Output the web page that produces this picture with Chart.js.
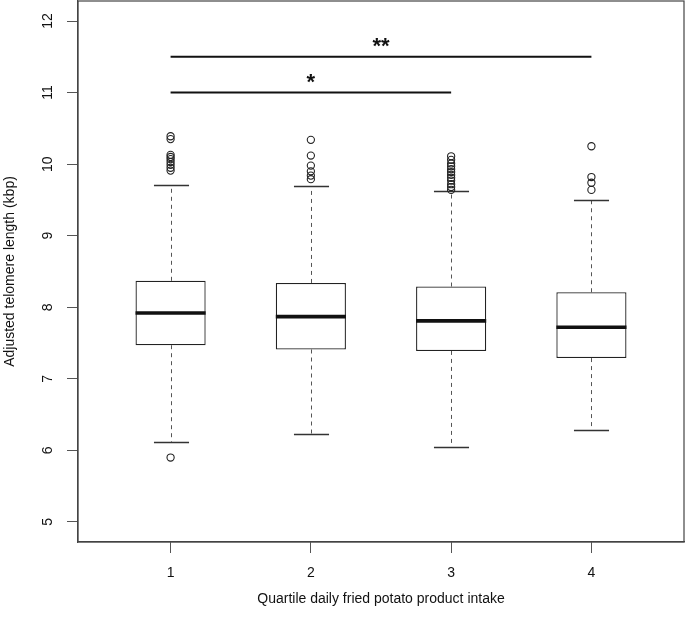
<!DOCTYPE html>
<html>
<head>
<meta charset="utf-8">
<script src="https://cdn.jsdelivr.net/npm/chart.js@4.4.1/dist/chart.umd.min.js"></script>
<style>
  html, body { margin: 0; padding: 0; background: #fff; }
  #wrap { width: 685px; height: 625px; }
</style>
</head>
<body>
<div id="wrap"><canvas id="myChart"></canvas></div>
<script>
// quartile groups
var groups = [1, 2, 3, 4];
var xTickLabels = ["1", "2", "3", "4"];
var yTicks = [5, 6, 7, 8, 9, 10, 11, 12];

// box stats (kbp)
var q1 = [7.47, 7.41, 7.39, 7.29];
var medians = [7.92, 7.87, 7.81, 7.72];
var q3 = [8.37, 8.34, 8.29, 8.21];
var whiskerLow = [6.12, 6.23, 6.05, 6.29];
var whiskerHigh = [9.71, 9.69, 9.63, 9.50];

// outliers per group
var outliers1 = [10.39, 10.35, 10.13, 10.10, 10.07, 10.03, 9.99, 9.95, 9.91, 5.90];
var outliers2 = [10.34, 10.12, 9.98, 9.90, 9.84, 9.79];
var outliers3 = [10.11, 10.06, 10.01, 9.97, 9.93, 9.89, 9.85, 9.81, 9.77, 9.72, 9.68, 9.64];
var outliers4 = [10.25, 9.82, 9.74, 9.64];

// significance brackets
var sigFrom = [1, 1];
var sigTo = [3, 4];
var sigHeight = [11.0, 11.5];
var sigLabel = ["*", "**"];

var outlierPoints = [];
[outliers1, outliers2, outliers3, outliers4].forEach(function (list, i) {
    list.forEach(function (v) { outlierPoints.push({ x: groups[i], y: v }); });
});

var boxes = groups.map(function (g, i) { return { x: g, y: [q1[i], q3[i]] }; });

var FONT = "'Liberation Sans', Arial, Helvetica, sans-serif";

var boxExtras = {
    id: "boxExtras",
    beforeDatasetsDraw: function (chart) {
        var ctx = chart.ctx;
        var yScale = chart.scales.y;
        var xScale = chart.scales.x;
        var bars = chart.getDatasetMeta(0).data;
        ctx.save();
        groups.forEach(function (g, i) {
            var cx = Math.round(xScale.getPixelForValue(g)) + 0.5;
            var half = bars[i].width / 2;
            var capHalf = half / 2;
            // dashed whiskers
            ctx.strokeStyle = "#555";
            ctx.lineWidth = 1;
            ctx.setLineDash([4, 4]);
            ctx.beginPath();
            ctx.moveTo(cx, yScale.getPixelForValue(q3[i]));
            ctx.lineTo(cx, yScale.getPixelForValue(whiskerHigh[i]));
            ctx.moveTo(cx, yScale.getPixelForValue(q1[i]));
            ctx.lineTo(cx, yScale.getPixelForValue(whiskerLow[i]));
            ctx.stroke();
            // staples
            ctx.setLineDash([]);
            ctx.strokeStyle = "#333";
            ctx.lineWidth = 1.3;
            ctx.beginPath();
            var yh = Math.round(yScale.getPixelForValue(whiskerHigh[i])) + 0.5;
            var yl = Math.round(yScale.getPixelForValue(whiskerLow[i])) + 0.5;
            ctx.moveTo(cx - capHalf, yh);
            ctx.lineTo(cx + capHalf, yh);
            ctx.moveTo(cx - capHalf, yl);
            ctx.lineTo(cx + capHalf, yl);
            ctx.stroke();
        });
        ctx.restore();
    },
    afterDatasetsDraw: function (chart) {
        var ctx = chart.ctx;
        var yScale = chart.scales.y;
        var xScale = chart.scales.x;
        var bars = chart.getDatasetMeta(0).data;
        var area = chart.chartArea;
        ctx.save();
        // medians
        groups.forEach(function (g, i) {
            var cx = xScale.getPixelForValue(g);
            var half = bars[i].width / 2;
            var ym = yScale.getPixelForValue(medians[i]);
            ctx.strokeStyle = "#111";
            ctx.lineWidth = 3.6;
            ctx.beginPath();
            ctx.moveTo(cx - half, ym);
            ctx.lineTo(cx + half, ym);
            ctx.stroke();
        });
        // significance lines
        sigFrom.forEach(function (a, k) {
            var x1 = xScale.getPixelForValue(a);
            var x2 = xScale.getPixelForValue(sigTo[k]);
            var y = yScale.getPixelForValue(sigHeight[k]);
            ctx.strokeStyle = "#111";
            ctx.lineWidth = 2;
            ctx.beginPath();
            ctx.moveTo(x1, y);
            ctx.lineTo(x2, y);
            ctx.stroke();
            ctx.fillStyle = "#111";
            ctx.font = "bold 22px " + FONT;
            ctx.textAlign = "center";
            ctx.textBaseline = "alphabetic";
            ctx.fillText(sigLabel[k], (x1 + x2) / 2, y - 4);
        });
        // plot frame
        ctx.strokeStyle = "#444";
        ctx.lineWidth = 1.2;
        ctx.strokeRect(area.left, area.top, area.right - area.left, area.bottom - area.top);
        ctx.restore();
    }
};

new Chart("myChart", {
    type: "bar",
    data: {
        datasets: [
            {
                type: "bar",
                data: boxes,
                backgroundColor: "#fff",
                borderColor: "#222",
                borderWidth: 1.3,
                borderSkipped: false,
                barPercentage: 0.5,
                categoryPercentage: 1,
                order: 2
            },
            {
                type: "scatter",
                data: outlierPoints,
                pointStyle: "circle",
                pointRadius: 3.6,
                pointBorderWidth: 1.1,
                pointBorderColor: "#222",
                pointBackgroundColor: "rgba(255,255,255,0)",
                order: 1
            }
        ]
    },
    options: {
        responsive: true,
        maintainAspectRatio: false,
        animation: false,
        layout: { autoPadding: false, padding: { top: 1, right: 1, left: 0, bottom: 0 } },
        plugins: {
            legend: { display: false },
            tooltip: { enabled: false },
            title: { display: false }
        },
        scales: {
            x: {
                type: "linear",
                min: 0.34,
                max: 4.66,
                offset: false,
                afterFit: function (scale) {
                    scale.height = 83;
                    scale.paddingLeft = 0;
                    scale.paddingRight = 0;
                },
                afterBuildTicks: function (scale) {
                    scale.ticks = groups.map(function (g) { return { value: g }; });
                },
                grid: { offset: false, drawOnChartArea: false, drawTicks: true, tickLength: 11, color: "#555", lineWidth: 1 },
                border: { display: true, color: "#444", width: 1.2 },
                ticks: {
                    padding: 12,
                    color: "#111",
                    font: { family: FONT, size: 14 },
                    maxRotation: 0,
                    callback: function (v) {
                        var i = groups.indexOf(v);
                        return i >= 0 ? xTickLabels[i] : "";
                    }
                },
                title: {
                    display: true,
                    text: "Quartile daily fried potato product intake",
                    color: "#111",
                    font: { family: FONT, size: 14 },
                    padding: { top: 0, bottom: 17 }
                }
            },
            y: {
                min: 4.72,
                max: 12.28,
                afterFit: function (scale) {
                    scale.width = 78;
                    scale.paddingTop = 0;
                    scale.paddingBottom = 0;
                },
                afterBuildTicks: function (scale) {
                    scale.ticks = yTicks.map(function (v) { return { value: v }; });
                },
                grid: { drawOnChartArea: false, drawTicks: true, tickLength: 11, color: "#555", lineWidth: 1 },
                border: { display: true, color: "#444", width: 1.2 },
                ticks: {
                    padding: 11,
                    color: "#111",
                    minRotation: 90,
                    maxRotation: 90,
                    crossAlign: "center",
                    font: { family: FONT, size: 14 }
                },
                title: {
                    display: true,
                    text: "Adjusted telomere length (kbp)",
                    color: "#111",
                    font: { family: FONT, size: 14 },
                    padding: { top: 2, bottom: 0 }
                }
            }
        }
    },
    plugins: [boxExtras]
});
</script>
</body>
</html>
